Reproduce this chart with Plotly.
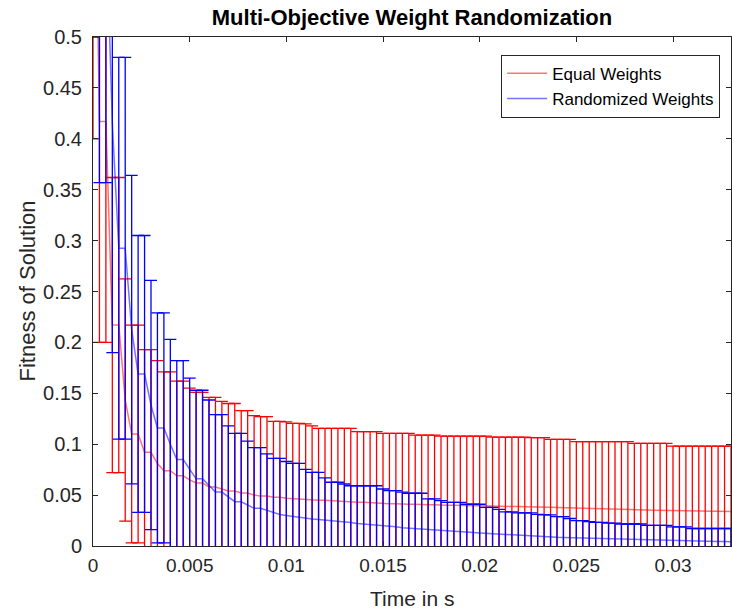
import plotly.graph_objects as go

# time in seconds (one sample every 1/3000 s)
time_s = [k / 3000 for k in range(100)]

red_mean = [0.80, 0.417, 0.417, 0.217, 0.217, 0.1435, 0.110, 0.110, 0.092, 0.092,
            0.081, 0.074, 0.074, 0.069, 0.069, 0.065, 0.062, 0.062, 0.058, 0.058,
            0.056, 0.054, 0.054, 0.052, 0.052, 0.050, 0.049, 0.049, 0.048, 0.048,
            0.047, 0.0465, 0.0465, 0.046, 0.0455, 0.045, 0.045, 0.0445, 0.044, 0.0435,
            0.0435, 0.043, 0.043, 0.0425, 0.042, 0.042, 0.0415, 0.0415, 0.041, 0.041,
            0.041, 0.0405, 0.0405, 0.0405, 0.040, 0.040, 0.040, 0.0398, 0.0396, 0.0395,
            0.0394, 0.0392, 0.039, 0.039, 0.0388, 0.0388, 0.0387, 0.0386, 0.0386, 0.0384,
            0.0382, 0.038, 0.0378, 0.0376, 0.0374, 0.0372, 0.037, 0.0366, 0.0363, 0.036,
            0.036, 0.0358, 0.0357, 0.0356, 0.0355, 0.0354, 0.0353, 0.0352, 0.0351, 0.035,
            0.035, 0.0349, 0.0348, 0.0347, 0.0346, 0.0345, 0.0344, 0.0343, 0.0342, 0.034]

red_std = [0.40, 0.217, 0.217, 0.145, 0.145, 0.119, 0.107, 0.107, 0.101, 0.101,
           0.101, 0.097, 0.097, 0.093, 0.093, 0.090, 0.089, 0.089, 0.088, 0.088,
           0.086, 0.086, 0.086, 0.081, 0.081, 0.078, 0.078, 0.078, 0.0745, 0.0745,
           0.075, 0.074, 0.074, 0.074, 0.0725, 0.0706, 0.0706, 0.0711, 0.0716, 0.0721,
           0.0721, 0.0693, 0.0693, 0.0698, 0.0703, 0.0687, 0.0692, 0.0692, 0.0697, 0.0697,
           0.068, 0.0685, 0.0685, 0.0685, 0.068, 0.068, 0.068, 0.0682, 0.0684, 0.0685,
           0.0686, 0.0688, 0.068, 0.068, 0.0682, 0.0682, 0.0683, 0.0684, 0.0678, 0.068,
           0.0682, 0.0668, 0.067, 0.0672, 0.0674, 0.0653, 0.0655, 0.0659, 0.0662, 0.0665,
           0.0665, 0.0667, 0.0668, 0.0669, 0.0654, 0.0655, 0.0656, 0.0657, 0.0658, 0.0659,
           0.0632, 0.0633, 0.0634, 0.0635, 0.0636, 0.0637, 0.0638, 0.0639, 0.064, 0.0642]

blue_mean = [0.90, 0.62, 0.62, 0.415, 0.2925, 0.2925, 0.2125, 0.169, 0.169, 0.1385,
             0.116, 0.116, 0.100, 0.085, 0.085, 0.075, 0.066, 0.066, 0.059, 0.053,
             0.053, 0.048, 0.0435, 0.0435, 0.040, 0.037, 0.037, 0.035, 0.033, 0.031,
             0.030, 0.029, 0.028, 0.027, 0.0265, 0.026, 0.0255, 0.025, 0.0245, 0.024,
             0.023, 0.022, 0.0216, 0.021, 0.0205, 0.020, 0.0195, 0.019, 0.018, 0.0175,
             0.017, 0.0166, 0.0162, 0.0158, 0.0154, 0.015, 0.0145, 0.014, 0.0136, 0.0132,
             0.0128, 0.0124, 0.012, 0.0116, 0.0112, 0.0108, 0.0104, 0.010, 0.0096, 0.0093,
             0.009, 0.0088, 0.0086, 0.0084, 0.0082, 0.008, 0.0079, 0.0077, 0.0076, 0.0075,
             0.0073, 0.0071, 0.007, 0.0068, 0.0066, 0.0064, 0.0062, 0.006, 0.0058, 0.0056,
             0.0055, 0.0053, 0.0052, 0.005, 0.0049, 0.0047, 0.0046, 0.0044, 0.0043, 0.0042]

blue_std = [0.40, 0.263, 0.263, 0.225, 0.1875, 0.1875, 0.1515, 0.136, 0.136, 0.1225,
            0.113, 0.113, 0.103, 0.097, 0.097, 0.090, 0.087, 0.087, 0.0844, 0.076,
            0.076, 0.070, 0.0672, 0.0672, 0.063, 0.0596, 0.0596, 0.0554, 0.0531, 0.0551,
            0.053, 0.0522, 0.0532, 0.0483, 0.0459, 0.0464, 0.0415, 0.0376, 0.0381, 0.0369,
            0.0362, 0.0372, 0.0376, 0.0382, 0.0387, 0.036, 0.0348, 0.0353, 0.035, 0.0343,
            0.0348, 0.0352, 0.030, 0.0304, 0.0291, 0.0279, 0.0284, 0.0289, 0.0274, 0.0278,
            0.0282, 0.0256, 0.026, 0.0244, 0.0223, 0.0227, 0.0221, 0.0225, 0.0229, 0.0217,
            0.0215, 0.0217, 0.0202, 0.0204, 0.0188, 0.0169, 0.017, 0.0163, 0.0156, 0.0157,
            0.0152, 0.0154, 0.0146, 0.0148, 0.015, 0.0152, 0.0141, 0.0143, 0.0145, 0.0147,
            0.0133, 0.0135, 0.0136, 0.0122, 0.0123, 0.0125, 0.0126, 0.0128, 0.0129, 0.013]

x_ticks = [0, 0.005, 0.01, 0.015, 0.02, 0.025, 0.03]
x_tick_text = ["0", "0.005", "0.01", "0.015", "0.02", "0.025", "0.03"]
y_ticks = [0, 0.05, 0.1, 0.15, 0.2, 0.25, 0.3, 0.35, 0.4, 0.45, 0.5]
y_tick_text = ["0", "0.05", "0.1", "0.15", "0.2", "0.25", "0.3", "0.35", "0.4", "0.45", "0.5"]

FONT = "Liberation Sans, Arial, Helvetica, sans-serif"
AX = "#262626"

fig = go.Figure()
fig.add_trace(go.Scatter(
    x=time_s, y=red_mean, mode="lines", name="Equal Weights",
    line=dict(color="rgba(255,0,0,0.55)", width=1.5),
    error_y=dict(type="data", array=red_std, visible=True, color="rgb(255,0,0)",
                 thickness=1.3, width=6),
))
fig.add_trace(go.Scatter(
    x=time_s, y=blue_mean, mode="lines", name="Randomized Weights",
    line=dict(color="rgba(0,0,255,0.55)", width=1.5),
    error_y=dict(type="data", array=blue_std, visible=True, color="rgb(0,0,255)",
                 thickness=1.3, width=6),
))

axis_common = dict(showline=True, linecolor=AX, linewidth=1, mirror="ticks",
                   ticks="inside", ticklen=5, tickcolor=AX, showgrid=False,
                   zeroline=False)
fig.update_xaxes(range=[0, 0.033], tickvals=x_ticks, ticktext=x_tick_text,
                 ticklabelstandoff=2, tickfont=dict(family=FONT, size=19, color=AX),
                 **axis_common)
fig.update_yaxes(range=[0, 0.5], tickvals=y_ticks, ticktext=y_tick_text,
                 ticklabelstandoff=6, tickfont=dict(family=FONT, size=20, color=AX),
                 **axis_common)

fig.update_layout(
    width=732, height=611,
    margin=dict(l=93, r=1, t=37, b=65),
    paper_bgcolor="white", plot_bgcolor="white",
    font=dict(family=FONT, color=AX),
    title=dict(text="<b>Multi-Objective Weight Randomization</b>",
               font=dict(family=FONT, size=22, color="black"),
               x=0.5, xref="paper", xanchor="center",
               y=1 - 17 / 611, yref="container", yanchor="middle"),
    showlegend=True,
    legend=dict(x=0.983, y=0.965, xanchor="right", yanchor="top",
                bgcolor="white", bordercolor=AX, borderwidth=1,
                font=dict(family=FONT, size=17, color="black"),
                tracegroupgap=0, itemwidth=40),
    annotations=[
        dict(text="Time in s", xref="paper", yref="paper", x=0.5, y=0,
             yshift=-52, xanchor="center", yanchor="middle", showarrow=False,
             font=dict(family=FONT, size=21, color=AX)),
        dict(text="Fitness of Solution", xref="paper", yref="paper", x=0, y=0.5,
             xshift=-66, xanchor="center", yanchor="middle", textangle=-90,
             showarrow=False, font=dict(family=FONT, size=22, color=AX)),
    ],
)

fig.write_html("out.html")
